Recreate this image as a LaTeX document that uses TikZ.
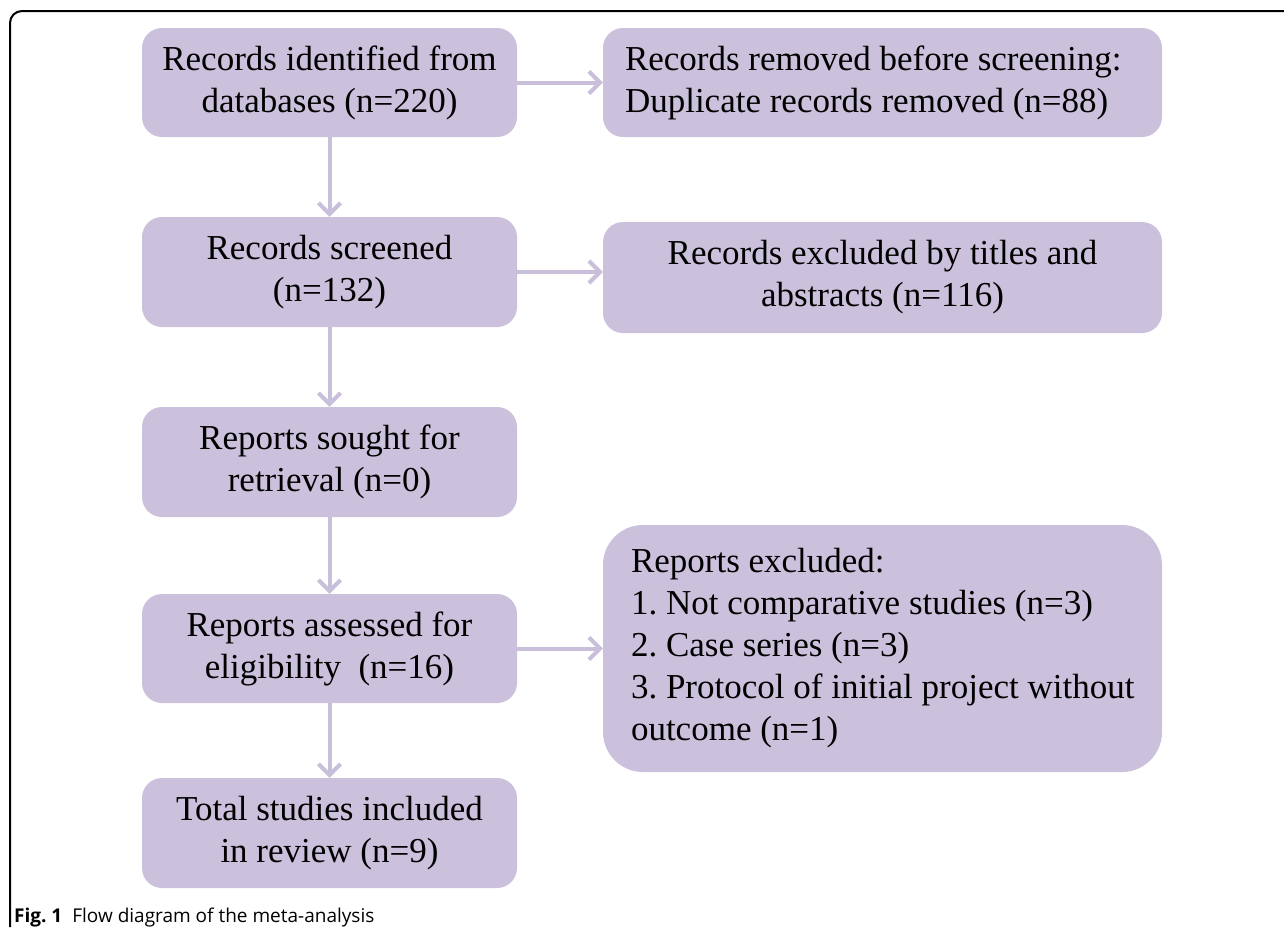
\documentclass[tikz,border=0pt]{standalone}
\usepackage{fontspec}
\setmainfont{Liberation Serif}
\newfontfamily\capfont{Open Sans}
\usetikzlibrary{arrows.meta}
\definecolor{boxfill}{HTML}{CBC1DC}
\definecolor{arrowcol}{HTML}{C9BFDB}
\frenchspacing
\tikzset{
  flowbox/.style={fill=boxfill, rounded corners=20pt, inner sep=0pt, align=center,
    font=\fontsize{35}{42}\selectfont, text=black},
  lefttext/.style={anchor=west, inner sep=0pt, align=left, font=\fontsize{35}{42}\selectfont, text=black},
  flowarrow/.style={draw=arrowcol, line width=4pt, -{Straight Barb[length=11pt,width=22pt,line width=4pt]}},
}
\begin{document}
\begin{tikzpicture}[x=1pt,y=-1pt]
\useasboundingbox (0,0) rectangle (1284,927);
\fill[white] (0,0) rectangle (1284,927);
\draw[line width=2pt, rounded corners=12pt] (10,927) -- (10,11) -- (1284,11);

\node[flowbox, minimum width=375pt, minimum height=109pt] (id) at (329.5,82.5) {Records identified from\\databases (n=220)};
\node[flowbox, minimum width=559pt, minimum height=109pt] (rm) at (882.5,82.5) {};
\node[lefttext] (rmt) at ([xshift=22pt]rm.west) {Records removed before screening:\\Duplicate records removed (n=88)};
\node[flowbox, minimum width=375pt, minimum height=110pt] (sc) at (329.5,272) {Records screened\\(n=132)};
\node[flowbox, minimum width=559pt, minimum height=111pt] (ex) at (882.5,277.5) {Records excluded by titles and\\abstracts (n=116)};
\node[flowbox, minimum width=375pt, minimum height=110pt] (so) at (329.5,462) {Reports sought for\\retrieval (n=0)};
\node[flowbox, minimum width=375pt, minimum height=109pt] (as) at (329.5,648.5) {Reports assessed for\\eligibility~~(n=16)};
\node[flowbox, rounded corners=40pt, minimum width=559pt, minimum height=247pt] (re) at (882.5,648.5) {};
\node[lefttext] (ret) at ([xshift=28pt]re.west) {Reports excluded:\\1. Not comparative studies (n=3)\\2. Case series (n=3)\\3. Protocol of initial project without\\outcome (n=1)};
\node[flowbox, minimum width=375pt, minimum height=110pt] (to) at (329.5,833) {Total studies included\\in review (n=9)};

\draw[flowarrow] (id.east) -- (rm.west);
\draw[flowarrow] (sc.east) -- (ex.west |- sc.east);
\draw[flowarrow] (as.east) -- (re.west |- as.east);
\draw[flowarrow] (id.south) -- (sc.north);
\draw[flowarrow] (sc.south) -- (so.north);
\draw[flowarrow] (so.south) -- (as.north);
\draw[flowarrow] (as.south) -- (to.north);

\node[anchor=base west, inner sep=0pt, font=\capfont\fontsize{19}{22}\selectfont] (cap) at (14,922) {\textbf{Fig. 1}\hspace{10pt}Flow diagram of the meta-analysis};
\end{tikzpicture}
\end{document}
